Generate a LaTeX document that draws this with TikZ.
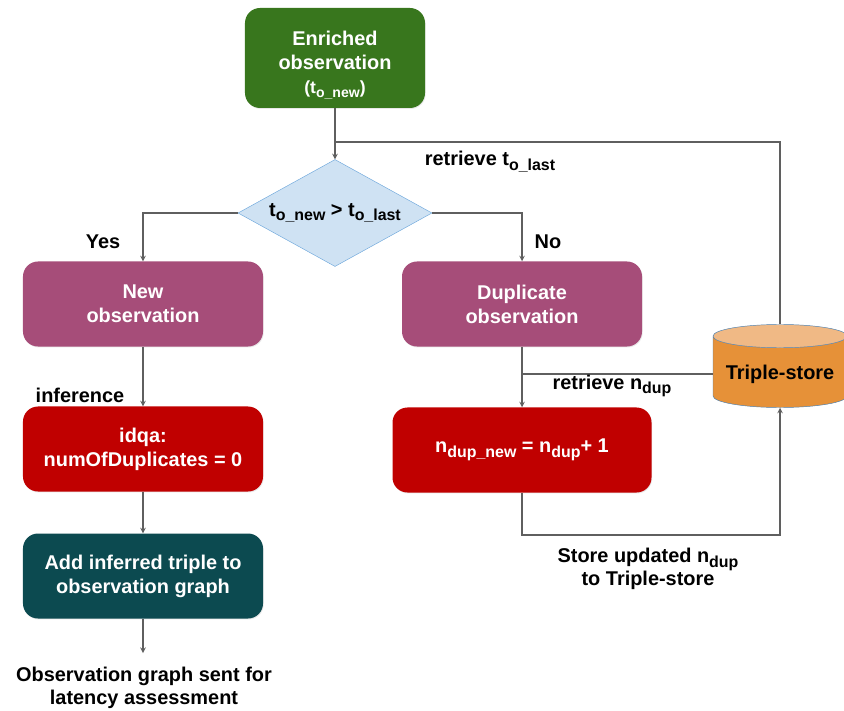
\documentclass[tikz,border=0pt]{standalone}
\usepackage{fontspec}
\setmainfont{Liberation Sans}
\usepackage{graphicx}
\usetikzlibrary{shapes.geometric, positioning, calc, shadows}

\definecolor{enrgreen}{HTML}{38761D}
\definecolor{obspurple}{HTML}{A64D79}
\definecolor{calcred}{HTML}{C00000}
\definecolor{graphteal}{HTML}{0C4A50}
\definecolor{decblue}{HTML}{CFE2F3}
\definecolor{decedge}{HTML}{6FA8DC}
\definecolor{storeorange}{HTML}{E69138}
\definecolor{storetop}{HTML}{F0B985}
\definecolor{storeedge}{HTML}{4A7FB0}
\definecolor{linegray}{HTML}{5F5F5F}

\newcommand{\lowsub}[1]{\raisebox{-0.45ex}{\scalebox{0.8}{#1}}}

\tikzset{
  procbox/.style={rectangle, rounded corners=0.45cm, text=white, align=center,
    minimum width=7.2cm, minimum height=2.55cm,
    font=\bfseries\fontsize{17}{20.5}\selectfont,
    drop shadow={opacity=0.18, shadow xshift=0.6pt, shadow yshift=-0.8pt}},
  flowline/.style={draw=linegray, line width=1.1pt},
  lbl/.style={font=\bfseries\fontsize{17}{20}\selectfont, align=center}
}

\begin{document}
\begin{tikzpicture}[>=stealth, x=0.03cm, y=-0.03cm]

        \useasboundingbox (0, 0) rectangle (844, 711);

        % boxes
        \node[procbox, fill=enrgreen, minimum width=5.4cm, minimum height=3cm] (enriched) at (335, 58)
            {\rule{0pt}{24pt}Enriched\\observation\\{\fontsize{15}{19}\selectfont (t\lowsub{o\_new})}};
        \node[diamond, draw=decedge, fill=decblue, aspect=1.81, inner sep=0pt,
            minimum width=5.82cm, minimum height=3.21cm,
            font=\bfseries\fontsize{17}{20}\selectfont] (check) at (335, 213)
            {t\lowsub{o\_new} > t\lowsub{o\_last}};
        \node[procbox, fill=obspurple] (newobs) at (143, 304) {New\\observation};
        \node[procbox, fill=obspurple] (dupobs) at (522, 304) {Duplicate\\observation};
        \node[procbox, fill=calcred] (infer) at (143, 449) {idqa:\\numOfDuplicates = 0};
        \node[procbox, fill=calcred, minimum width=7.77cm] (increment) at (522, 450)
            {n\lowsub{dup\_new} = n\lowsub{dup}+ 1};
        \node[procbox, fill=graphteal] (addtriple) at (143, 576) {Add inferred triple to\\observation graph};

        \node[cylinder, shape border rotate=90, aspect=0.2, draw=storeedge, line width=0.4pt,
            cylinder uses custom fill, cylinder body fill=storeorange, cylinder end fill=storetop,
            minimum width=4.02cm, minimum height=2.49cm, anchor=shape center,
            font=\bfseries\fontsize{17}{20}\selectfont] (store) at (780, 366) {Triple-store};

        % connectors
        \coordinate (split) at (335, 142);
        \coordinate (sent) at (143, 653);
        \coordinate (back) at (780, 535);

        \draw[flowline, ->] (enriched) -- (check);
        \draw[flowline] (split) -| (store.north);
        \draw[flowline, ->] (check.west) -| (newobs.north);
        \draw[flowline, ->] (check.east) -| (dupobs.north);
        \draw[flowline, ->] (newobs) -- (infer);
        \draw[flowline, ->] (infer) -- (addtriple);
        \draw[flowline, ->] (addtriple) -- (sent);
        \draw[flowline, ->] (dupobs) -- (increment);
        \draw[flowline] (dupobs.south |- store.west) -- (store.west);
        \draw[flowline, ->] (increment.south) |- (back) -- (store.south);

        % labels
        \node[lbl] (tlast) at (490, 162) {retrieve t\lowsub{o\_last}};
        \node[lbl] (yeslbl) at (103, 242) {Yes};
        \node[lbl] (nolbl) at (548, 242) {No};
        \node[lbl] (inflbl) at (80, 395) {inference};
        \node[lbl] (ndup) at (612, 386) {retrieve n\lowsub{dup}};
        \node[lbl] (storelbl) at (648, 569) {Store updated n\lowsub{dup}\\to Triple-store};
        \node[lbl] (sentlbl) at (144, 688) {Observation graph sent for\\latency assessment};
\end{tikzpicture}
\end{document}
